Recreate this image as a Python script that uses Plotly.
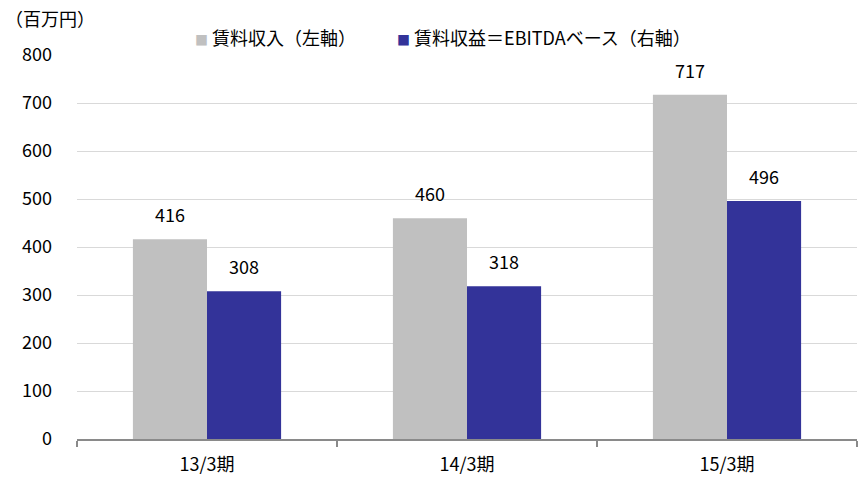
import plotly.graph_objects as go

categories = ["13/3期", "14/3期", "15/3期"]
revenue = [416, 460, 717]
ebitda = [308, 318, 496]
series_names = ["賃料収入（左軸）", "賃料収益＝EBITDAベース（右軸）"]
colors = ["#c0c0c0", "#333399"]

FONT = "Noto Sans CJK JP, Liberation Sans, sans-serif"

fig = go.Figure()
fig.add_trace(go.Bar(x=categories, y=revenue, name=series_names[0], showlegend=False,
                     marker=dict(color=colors[0], line=dict(width=0))))
fig.add_trace(go.Bar(x=categories, y=ebitda, name=series_names[1], showlegend=False,
                     marker=dict(color=colors[1], line=dict(width=0))))

# value labels
for i, c in enumerate(categories):
    for vals, shift in ((revenue, -37), (ebitda, 37)):
        fig.add_annotation(x=c, y=vals[i], text=str(vals[i]), showarrow=False,
                           xshift=shift, yshift=25, font=dict(size=18, color="#000000"))

# legend drawn as text
for name, col, px in zip(series_names, colors, (0.1487, 0.4077)):
    fig.add_annotation(xref="paper", yref="paper", x=px, y=1.047, xanchor="left",
                       yanchor="middle", showarrow=False,
                       text=f"<span style='color:{col};font-size:13px'>■</span> {name}",
                       font=dict(size=18, color="#000000"))

fig.add_annotation(xref="paper", yref="paper", x=-0.095, y=1.0964, xanchor="left",
                   yanchor="middle", text="（百万円）", showarrow=False,
                   font=dict(size=18, color="#000000"))

fig.update_layout(
    width=863, height=477,
    margin=dict(l=77, r=6, t=55, b=38),
    paper_bgcolor="white", plot_bgcolor="white",
    font=dict(family=FONT, size=18, color="#000000"),
    barmode="group", bargap=0.43, bargroupgap=0,
    showlegend=False,
    xaxis=dict(type="category", tickson="boundaries", ticks="outside", ticklen=6,
               tickcolor="#8a8a8a", tickwidth=2, showline=True, linecolor="#8a8a8a",
               linewidth=2, showgrid=False, tickfont=dict(size=18),
               ticklabelstandoff=8, automargin=False),
    yaxis=dict(range=[0, 800], dtick=100, showgrid=True, gridcolor="#d9d9d9",
               gridwidth=1, zeroline=False, showline=False, ticks="",
               ticklabelstandoff=24, tickfont=dict(size=18), automargin=False),
)

fig.write_html("out.html")
